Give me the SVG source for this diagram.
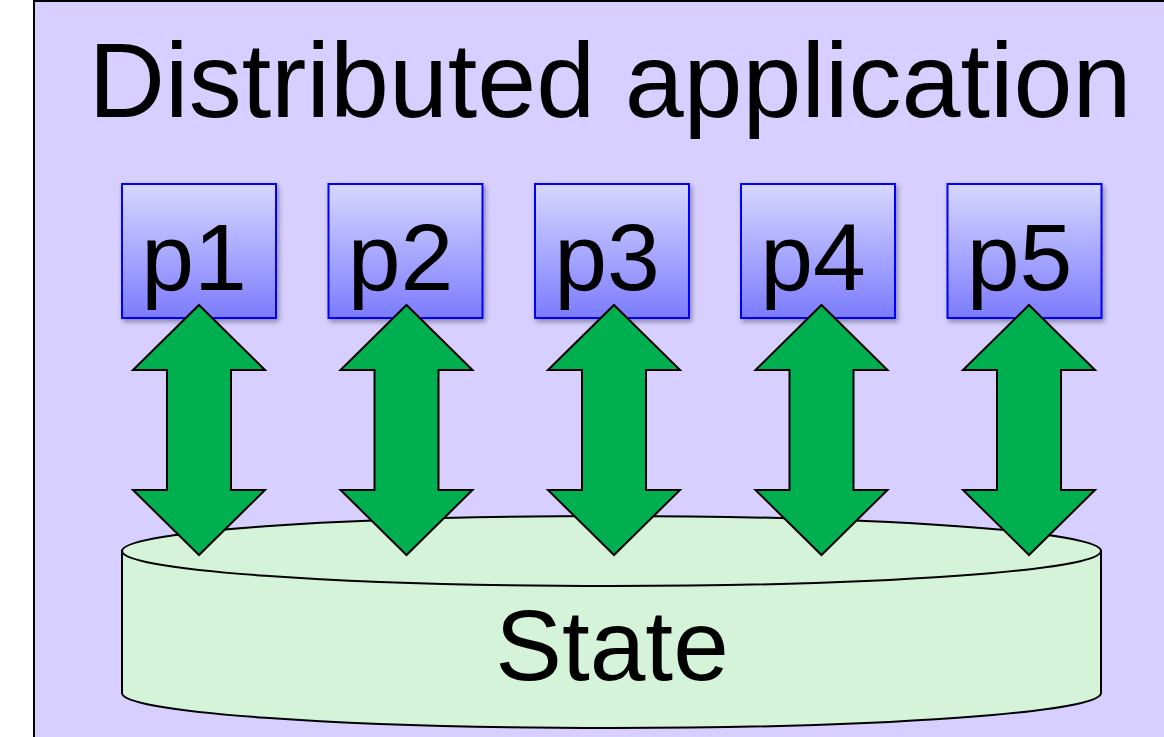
<svg xmlns="http://www.w3.org/2000/svg" width="1164" height="737" viewBox="0 0 1164 737">
  <defs>
    <linearGradient id="procFill" x1="0" y1="0" x2="0" y2="1">
      <stop offset="0" stop-color="#d7d7ff"/>
      <stop offset="1" stop-color="#7c7cff"/>
    </linearGradient>
    <filter id="shadow" x="-10%" y="-10%" width="125%" height="125%">
      <feDropShadow dx="2" dy="3" stdDeviation="2.5" flood-color="#000" flood-opacity="0.35"/>
    </filter>
    <!-- double-headed arrow, centred on x=0 -->
    <path id="dblArrow" d="M0,305 L66,370 L32,370 L32,490 L66,490 L0,555 L-66,490 L-32,490 L-32,370 L-66,370 Z"/>
  </defs>
  <style>
    .frame { fill: #d6cfff; stroke: #000; stroke-width: 2; }
    .proc { fill: url(#procFill); stroke: #0000ff; stroke-width: 2; filter: url(#shadow); }
    .label { font-family: "Liberation Sans", Arial, sans-serif; fill: #000; text-anchor: middle; }
    .store { fill: #d5f3d9; stroke: #000; stroke-width: 2; }
    .link { fill: #00b050; stroke: #000; stroke-width: 2; stroke-linejoin: miter; }
  </style>

  <rect class="frame" x="34" y="1" width="1150" height="760"/>
  <text class="label" x="610" y="117" font-size="106">Distributed application</text>

  <g id="state">
    <path class="store" d="M122,551 L122,693 A489.5,35 0 0 0 1101,693 L1101,551 Z"/>
    <ellipse class="store" cx="611.5" cy="551" rx="489.5" ry="35"/>
    <text class="label" x="612" y="680" font-size="100">State</text>
  </g>

  <g id="p1">
    <rect class="proc" x="122" y="184" width="154" height="134"/>
    <text class="label" x="194" y="290" font-size="95">p1</text>
  </g>
  <g id="p2">
    <rect class="proc" x="328.5" y="184" width="154" height="134"/>
    <text class="label" x="400.5" y="290" font-size="95">p2</text>
  </g>
  <g id="p3">
    <rect class="proc" x="535" y="184" width="154" height="134"/>
    <text class="label" x="607" y="290" font-size="95">p3</text>
  </g>
  <g id="p4">
    <rect class="proc" x="741" y="184" width="154" height="134"/>
    <text class="label" x="813" y="290" font-size="95">p4</text>
  </g>
  <g id="p5">
    <rect class="proc" x="947.5" y="184" width="154" height="134"/>
    <text class="label" x="1019.5" y="290" font-size="95">p5</text>
  </g>

  <g id="connectors">
    <use href="#dblArrow" class="link" x="199"/>
    <use href="#dblArrow" class="link" x="406.5"/>
    <use href="#dblArrow" class="link" x="614"/>
    <use href="#dblArrow" class="link" x="821.5"/>
    <use href="#dblArrow" class="link" x="1029"/>
  </g>
</svg>
